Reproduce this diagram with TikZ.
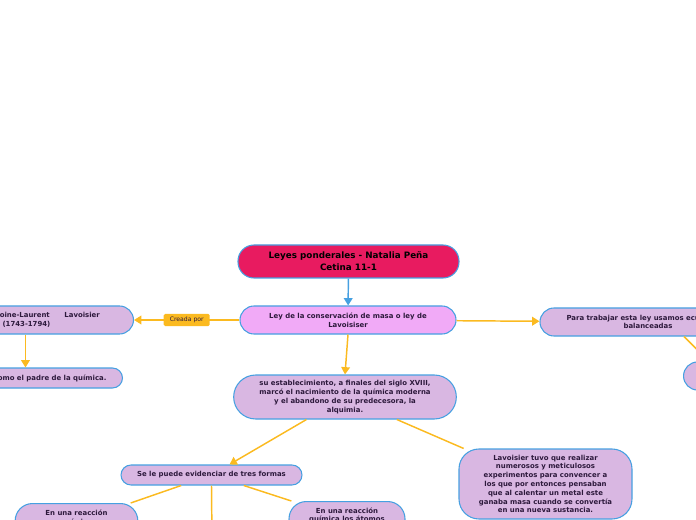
\documentclass[tikz,border=0pt]{standalone}
\usepackage{fontspec}
\setmainfont{DejaVu Sans}
\usepackage{xcolor}
\usepackage{tikz}
\usetikzlibrary{arrows.meta,positioning,calc}

\definecolor{titlered}{RGB}{232,27,96}
\definecolor{mainpink}{RGB}{241,170,247}
\definecolor{lilac}{RGB}{217,183,226}
\definecolor{edgeblue}{RGB}{70,160,225}
\definecolor{amber}{RGB}{251,186,32}
\definecolor{darktext}{RGB}{45,25,60}

\tikzset{
  topic/.style={draw=edgeblue, line width=0.8pt, fill=lilac, text=darktext,
    font=\fontsize{5.2}{6.6}\selectfont\bfseries, align=center,
    rounded corners=10.5pt, inner sep=1pt},
  link/.style={amber, line width=1.1pt},
  arr/.style={link, -{Triangle[length=5.5pt,width=6.5pt]}},
  tag/.style={fill=amber, text=darktext, font=\fontsize{4.6}{5}\selectfont,
    rounded corners=1pt, minimum width=34.5pt, minimum height=9pt, inner sep=1pt}
}

\begin{document}
\begin{tikzpicture}[x=0.75pt,y=-0.75pt]
  \useasboundingbox (0,0) rectangle (696,520);
  \clip (0,0) rectangle (696,520);

  % raiz
  \node[topic, fill=titlered, text=black, font=\fontsize{6.6}{9}\selectfont\bfseries,
        minimum width=165.75pt, minimum height=24.75pt, rounded corners=12pt]
        (title) at (348.5,261.5) {Leyes ponderales - Natalia Peña\\Cetina 11-1};
  \node[topic, fill=mainpink, minimum width=162pt, minimum height=21pt]
        (ley) at (348,320) {Ley de la conservación de masa o ley de\\Lavoisiser};

  % rama izquierda
  \node[topic, anchor=east, minimum width=160.5pt, minimum height=21pt]
        (antoine) at (134,320) {\hspace*{24.8pt}Antoine-Laurent\hspace{11pt}Lavoisier\\(1743-1794)};
  \node[topic, anchor=east, minimum height=15pt, inner xsep=12pt, rounded corners=7.5pt]
        (padre) at (123,378) {Considerado como el padre de la química.};

  % rama derecha
  \node[topic, minimum width=162pt, minimum height=21pt]
        (balance) at (648,322) {Para trabajar esta ley usamos ecuaciones\\balanceadas};
  \node[topic, anchor=west, minimum width=60pt, minimum height=21pt]
        (extra) at (683,376) {};

  % rama central
  \node[topic, minimum width=167pt, minimum height=33pt, rounded corners=16.5pt]
        (estab) at (345,397) {su establecimiento, a finales del siglo XVIII,\\marcó el nacimiento de la química moderna\\y el abandono de su predecesora, la\\alquimia.};
  \node[topic, minimum width=135.75pt, minimum height=15pt, rounded corners=7.5pt]
        (formas) at (211.5,475) {Se le puede evidenciar de tres formas};
  \node[topic, minimum width=129.75pt, minimum height=52.5pt, rounded corners=15pt]
        (experim) at (545.5,484) {Lavoisier tuvo que realizar\\numerosos y meticulosos\\experimentos para convencer a\\los que por entonces pensaban\\que al calentar un metal este\\ganaba masa cuando se convertía\\en una nueva sustancia.};
  \node[topic, anchor=north, minimum width=92pt, inner ysep=5pt, rounded corners=13pt]
        (formaA) at (76.5,503) {En una reacción\\química\\ };
  \node[topic, anchor=north, minimum width=87pt, inner ysep=4.5pt, rounded corners=13pt]
        (formaC) at (347,501) {En una reacción\\química los átomos\\ };
  \coordinate (formaB) at (212,540);

  % conectores
  \draw[edgeblue, line width=1.1pt, -{Triangle[length=5.5pt,width=6.5pt]}] (title) -- (ley);
  \draw[arr] (ley) -- node[tag] {Creada por} (antoine);
  \draw[arr] ([xshift=-0.75pt]antoine.south) -- ([xshift=-0.75pt]antoine.south |- padre.north);
  \draw[arr] (ley) -- (balance);
  \draw[link] ([xshift=27pt]balance.south) -- (extra);
  \draw[arr] (ley.south) -- (estab.north);
  \draw[arr] (estab) -- (formas);
  \draw[link] (estab) -- (experim);
  \draw[link] (formas) -- (formaA);
  \draw[link] (formas.south) -- (formaB);
  \draw[link] (formas) -- (formaC);
\end{tikzpicture}
\end{document}
